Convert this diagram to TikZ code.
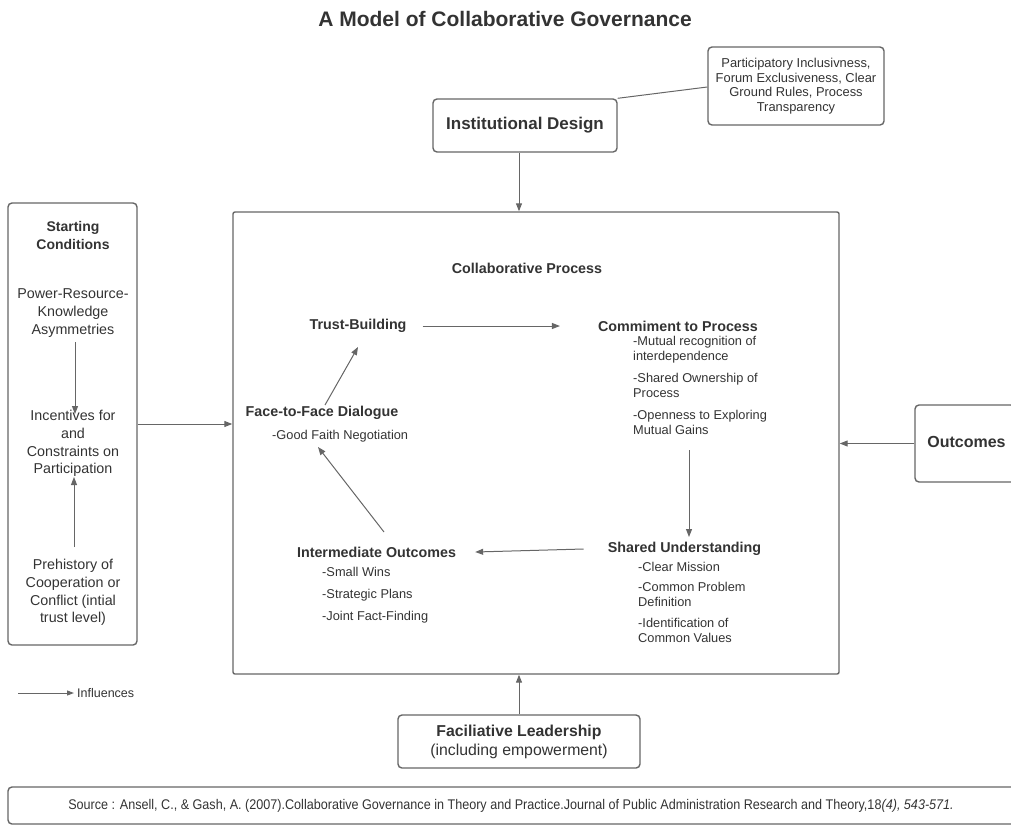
\documentclass[tikz,border=0pt]{standalone}
\usepackage{fontspec}
\usepackage{graphicx}
\setmainfont{Liberation Sans}
\usetikzlibrary{positioning,arrows.meta,calc}
\definecolor{inkgray}{HTML}{333333}
\definecolor{linegray}{HTML}{666666}

\begin{document}
\begin{tikzpicture}[x=1pt,y=-1pt,text=inkgray,
      box/.style={draw=linegray,line width=1.4pt,rounded corners=4pt},
      arr/.style={draw=linegray,line width=1pt,-{Triangle[length=8pt,width=6pt]}},
      ttl/.style={font=\fontsize{21}{24}\selectfont\bfseries},
      head/.style={font=\fontsize{14.3}{17}\selectfont\bfseries,inner sep=1pt},
      item/.style={font=\fontsize{12.8}{15.5}\selectfont,align=left,inner sep=0pt},
      side/.style={font=\fontsize{14.3}{17.7}\selectfont,align=center,inner sep=0pt}]
    \useasboundingbox (0,0) rectangle (1011,825);
    \node[ttl] (title) at (505,19) {A Model of Collaborative Governance};

    % outer boxes
    \node[box,minimum width=176pt,minimum height=78pt,align=center,
          font=\fontsize{12.9}{14.5}\selectfont] (rules) at (796,86)
          {Participatory Inclusivness,\\ Forum Exclusiveness, Clear\\ Ground Rules, Process\\ Transparency};
    \node[box,minimum width=184pt,minimum height=53pt,font=\fontsize{17}{20}\selectfont\bfseries] (design) at (525,125.5) {Institutional Design};
    \node[box,rounded corners=2pt,minimum width=606pt,minimum height=462pt] (process) at (536,443) {};
    \node[box,minimum width=129pt,minimum height=442pt] (start) at (72.5,424) {};
    \node[box,minimum width=100pt,minimum height=77pt] (outcomes) at (965,443.5) {};
    \node[font=\fontsize{16}{19}\selectfont\bfseries] (outtext) at (966.5,442) {Outcomes};
    \node[box,minimum width=242pt,minimum height=53pt,align=center,font=\fontsize{15.8}{19}\selectfont] (lead) at (519,741.5)
          {\textbf{Faciliative Leadership}\\ (including empowerment)};
    \node[box,minimum width=1010pt,minimum height=37pt] (source) at (513,805.5) {};
    \node[font=\fontsize{14}{16}\selectfont] (srctext) at (511,806)
          {\scalebox{0.9}[1]{Source : Ansell, C., \& Gash, A. (2007).Collaborative Governance in Theory and Practice.Journal of Public Administration Research and Theory,18\textit{(4), 543-571.}}};

    % starting conditions
    \node[side,font=\fontsize{14}{17.5}\selectfont\bfseries] (sctitle) at (73,235.5) {Starting\\ Conditions};
    \node[side] (power) at (73,313) {Power-Resource-\\ Knowledge\\ Asymmetries};
    \node[side] (incent) at (73,443.5) {Incentives for\\ and\\ Constraints on\\ Participation};
    \node[side] (prehist) at (73,592.5) {Prehistory of\\ Cooperation or\\ Conflict (intial\\ trust level)};
    \draw[arr] (75,342) -- (75,414);
    \draw[arr] (74,547) -- (74,477);

    % collaborative process
    \node[head] (cptitle) at (527,268) {Collaborative Process};
    \node[head] (trust) at (358,326) {Trust-Building};
    \node[head] (commit) at (678,326) {Commiment to Process};
    \node[item,anchor=north west] (citems) at (633,336)
          {-Mutual recognition of\\ interdependence\\[6pt] -Shared Ownership of\\ Process\\[6pt] -Openness to Exploring\\ Mutual Gains};
    \node[head] (shared) at (684.5,549) {Shared Understanding};
    \node[item,anchor=north west] (sitems) at (638,562)
          {-Clear Mission\\[4.5pt] -Common Problem\\ Definition\\[5pt] -Identification of\\ Common Values};
    \node[head] (inter) at (376.5,552) {Intermediate Outcomes};
    \node[item,anchor=north west] (iitems) at (322,567)
          {-Small Wins\\[6.5pt] -Strategic Plans\\[6.5pt] -Joint Fact-Finding};
    \node[head] (face) at (322,413) {Face-to-Face Dialogue};
    \node[item,anchor=north west] (fitems) at (272,430) {-Good Faith Negotiation};

    \draw[arr] ([xshift=15pt]trust.east) -- ([xshift=-37pt]commit.west);
    \draw[arr] (689,450) -- (689,537);
    \draw[arr] ([xshift=-23pt]shared.west) -- ([xshift=18pt]inter.east);
    \draw[arr] (384,532) -- (318,447);
    \draw[arr] (325,405) -- (358,347);

    % outer connectors
    \draw[linegray,line width=1pt] (design.north east) -- ([yshift=-1pt]rules.west);
    \draw[arr] ([xshift=-6pt]design.south) -- ([xshift=-6pt]design.south |- process.north);
    \draw[arr] (start.east) -- (start.east -| process.west);
    \draw[arr] (outcomes.west) -- (outcomes.west -| process.east);
    \draw[arr] (lead.north) -- (lead.north |- process.south);

    % legend
    \node[font=\fontsize{12.5}{14}\selectfont,anchor=west,inner sep=0pt] (influ) at (77,693) {Influences};
    \coordinate (legstart) at (18,693);
    \draw[arr,-{Triangle[length=7pt,width=5pt]}] (legstart) -- ([xshift=-3pt]influ.west);
  \end{tikzpicture}
\end{document}
